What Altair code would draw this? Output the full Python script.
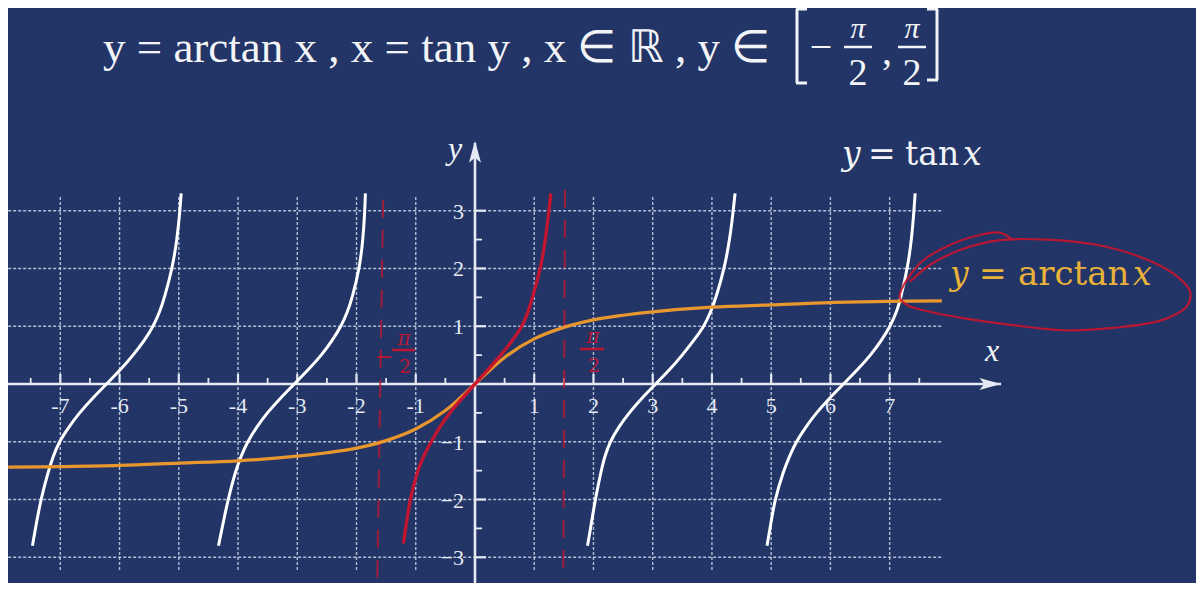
import altair as alt
import pandas as pd

# ---------------- data ----------------
tan_y = [-2.8, -2.5, -2.0, -1.5, -1.25, -1.0, -0.75, -0.5, -0.25, 0.0,
         0.25, 0.5, 0.75, 1.0, 1.25, 1.5, 2.0, 2.5, 3.0, 3.3]
branch_a_x = [-7.47, -7.42, -7.33, -7.20, -7.12, -7.02, -6.86, -6.68, -6.46, -6.22,
              -5.98, -5.77, -5.58, -5.43, -5.32, -5.24, -5.11, -5.03, -4.98, -4.96]
branch_b_x = [-4.33, -4.27, -4.17, -4.04, -3.95, -3.84, -3.69, -3.51, -3.29, -3.05,
              -2.81, -2.59, -2.41, -2.26, -2.15, -2.07, -1.95, -1.89, -1.86, -1.85]
branch_c_x = [1.90, 1.95, 2.03, 2.13, 2.19, 2.28, 2.42, 2.60, 2.81, 3.05,
              3.29, 3.50, 3.69, 3.87, 3.98, 4.07, 4.21, 4.30, 4.36, 4.39]
branch_d_x = [4.93, 4.98, 5.06, 5.21, 5.31, 5.42, 5.58, 5.76, 5.98, 6.22,
              6.46, 6.68, 6.86, 7.01, 7.12, 7.19, 7.30, 7.37, 7.41, 7.43]

red_y = [-2.76, -2.5, -2.0, -1.5, -1.25, -1.0, -0.75, -0.5, -0.25, 0.0,
         0.25, 0.5, 0.75, 1.0, 1.25, 1.5, 2.0, 2.5, 3.0, 3.3]
red_x = [-1.21, -1.17, -1.10, -0.97, -0.87, -0.74, -0.60, -0.43, -0.22, 0.0,
         0.22, 0.44, 0.63, 0.80, 0.90, 0.97, 1.11, 1.19, 1.25, 1.28]

arctan_x = [-7.88, -7, -6, -5, -4, -3, -2.5, -2, -1.5, -1, -0.5, 0, 0.5, 1, 1.5, 2, 2.5, 3, 4, 5, 6, 7, 7.88]
arctan_y = [-1.44, -1.43, -1.41, -1.37, -1.33, -1.25, -1.19, -1.11, -0.98, -0.78, -0.46, 0.0,
            0.46, 0.78, 0.98, 1.11, 1.19, 1.25, 1.33, 1.37, 1.41, 1.43, 1.44]

asym_x_top = [-1.55, 1.52]
asym_y_top = [3.19, 3.36]
asym_x_bot = [-1.65, 1.49]
asym_y_bot = [-3.40, -3.40]

ellipse_x = [9.08, 8.86, 8.52, 7.96, 7.51, 7.17, 7.29, 7.68, 8.24, 9.08, 9.93, 10.77, 11.61,
             12.01, 12.07, 11.78, 11.23, 10.49, 9.65, 8.86, 8.19, 7.68, 7.34]
ellipse_y = [2.49, 2.62, 2.58, 2.38, 2.09, 1.51, 1.37, 1.25, 1.14, 1.02, 0.93, 0.97, 1.11,
             1.34, 1.60, 1.92, 2.20, 2.41, 2.50, 2.49, 2.32, 2.06, 1.77]

grid_x = [-7, -6, -5, -4, -3, -2, -1, 1, 2, 3, 4, 5, 6, 7]
grid_y = [-3, -2, -1, 1, 2, 3]
minor_x = [-7.5, -6.5, -5.5, -4.5, -3.5, -2.5, -1.5, -0.5, 0.5, 1.5, 2.5, 3.5, 4.5, 5.5, 6.5, 7.5]
minor_y = [-2.5, -1.5, -0.5, 0.5, 1.5, 2.5]
x_labels = ["-7", "-6", "-5", "-4", "-3", "-2", "-1", "1", "2", "3", "4", "5", "6", "7"]
y_labels = ["−3", "−2", "−1", "1", "2", "3"]

grid_x_lo, grid_x_hi = -7.88, 7.88
grid_y_lo, grid_y_hi = -3.22, 3.24
axis_x_end, axis_y_end = 8.88, 4.17
arrow_x_pos, arrow_y_pos = 8.70, 4.02

# ---------------- style ----------------
W, H = 1188, 575
X_DOM = [-7.883, 12.171]
Y_DOM = [-3.445, 6.509]
BG = "#223566"
GRID = "#c3cce0"
AXIS = "#e4e9f3"
ORANGE = "#e8962e"
GOLD = "#e8b23a"
RED = "#c8142e"
SERIF = "Liberation Serif"
MATH = "DejaVu Serif"

xs = alt.Scale(domain=X_DOM, nice=False, zero=False)
ys = alt.Scale(domain=Y_DOM, nice=False, zero=False)


def qx(f):
    return alt.X(f, type="quantitative", scale=xs, axis=None)


def qy(f):
    return alt.Y(f, type="quantitative", scale=ys, axis=None)


layers = []

# grid
vgrid = pd.DataFrame({"x": grid_x, "y": [grid_y_lo] * len(grid_x), "y2": [grid_y_hi] * len(grid_x)})
layers.append(alt.Chart(vgrid).mark_rule(color=GRID, strokeWidth=1.4, strokeDash=[3, 2], opacity=0.9)
              .encode(x=qx("x"), y=qy("y"), y2="y2"))
hgrid = pd.DataFrame({"y": grid_y, "x": [grid_x_lo] * len(grid_y), "x2": [grid_x_hi] * len(grid_y)})
layers.append(alt.Chart(hgrid).mark_rule(color=GRID, strokeWidth=1.4, strokeDash=[3, 2], opacity=0.9)
              .encode(y=qy("y"), x=qx("x"), x2="x2"))

# axes
layers.append(alt.Chart(pd.DataFrame({"a": [X_DOM[0]], "b": [axis_x_end], "y": [0]}))
              .mark_rule(color=AXIS, strokeWidth=2.6).encode(x=qx("a"), x2="b", y=qy("y")))
layers.append(alt.Chart(pd.DataFrame({"a": [Y_DOM[0]], "b": [axis_y_end], "x": [0]}))
              .mark_rule(color=AXIS, strokeWidth=2.6).encode(y=qy("a"), y2="b", x=qx("x")))
layers.append(alt.Chart(pd.DataFrame({"x": [arrow_x_pos], "y": [0]}))
              .mark_point(shape="M1,0 L-1,-0.55 L-0.55,0 L-1,0.55 Z", size=484, filled=True,
                          color=AXIS, opacity=1).encode(x=qx("x"), y=qy("y")))
layers.append(alt.Chart(pd.DataFrame({"x": [0], "y": [arrow_y_pos]}))
              .mark_point(shape="M0,-1 L-0.55,1 L0,0.55 L0.55,1 Z", size=484, filled=True,
                          color=AXIS, opacity=1).encode(x=qx("x"), y=qy("y")))

# ticks
xt = pd.DataFrame({"x": grid_x, "y": [0] * len(grid_x)})
layers.append(alt.Chart(xt).mark_rule(color=AXIS, strokeWidth=2.2, y2Offset=-10)
              .encode(x=qx("x"), y=qy("y"), y2="y"))
xm = pd.DataFrame({"x": minor_x, "y": [0] * len(minor_x)})
layers.append(alt.Chart(xm).mark_rule(color=AXIS, strokeWidth=1.8, y2Offset=-6)
              .encode(x=qx("x"), y=qy("y"), y2="y"))
yt = pd.DataFrame({"y": grid_y, "x": [0] * len(grid_y)})
layers.append(alt.Chart(yt).mark_rule(color=AXIS, strokeWidth=2.2, x2Offset=11)
              .encode(y=qy("y"), x=qx("x"), x2="x"))
ym = pd.DataFrame({"y": minor_y, "x": [0] * len(minor_y)})
layers.append(alt.Chart(ym).mark_rule(color=AXIS, strokeWidth=1.8, x2Offset=7)
              .encode(y=qy("y"), x=qx("x"), x2="x"))

# tick labels
xl = pd.DataFrame({"x": grid_x, "y": [0] * len(grid_x), "t": x_labels})
layers.append(alt.Chart(xl).mark_text(font=SERIF, fontSize=22, color=AXIS, baseline="middle", dy=22)
              .encode(x=qx("x"), y=qy("y"), text="t:N"))
yl = pd.DataFrame({"y": grid_y, "x": [0] * len(grid_y), "t": y_labels})
layers.append(alt.Chart(yl).mark_text(font=SERIF, fontSize=22, color=AXIS, baseline="middle",
                                      align="right", dx=-11, dy=1)
              .encode(x=qx("x"), y=qy("y"), text="t:N"))

# red asymptotes
asym = pd.DataFrame({"x": asym_x_top, "y": asym_y_top, "x2": asym_x_bot, "y2": asym_y_bot})
layers.append(alt.Chart(asym).mark_rule(color=RED, strokeWidth=2, strokeDash=[18, 12], opacity=0.75)
              .encode(x=qx("x"), y=qy("y"), x2="x2", y2="y2"))

# white tan branches
rows = []
for name, xv in [("a", branch_a_x), ("b", branch_b_x), ("c", branch_c_x), ("d", branch_d_x)]:
    for i, (a, b) in enumerate(zip(xv, tan_y)):
        rows.append({"x": a, "y": b, "br": name, "o": i})
tan_df = pd.DataFrame(rows)
layers.append(alt.Chart(tan_df).mark_line(color="white", strokeWidth=3, interpolate="basis")
              .encode(x=qx("x"), y=qy("y"), detail="br:N", order="o:Q"))

# arctan
at_df = pd.DataFrame({"x": arctan_x, "y": arctan_y})
layers.append(alt.Chart(at_df).mark_line(color=ORANGE, strokeWidth=3.2, interpolate="catmull-rom")
              .encode(x=qx("x"), y=qy("y")))

# red branch
red_df = pd.DataFrame({"x": red_x, "y": red_y, "o": list(range(len(red_x)))})
layers.append(alt.Chart(red_df).mark_line(color=RED, strokeWidth=3.4, interpolate="basis", opacity=0.95)
              .encode(x=qx("x"), y=qy("y"), order="o:Q"))

# red ellipse
el_df = pd.DataFrame({"x": ellipse_x, "y": ellipse_y, "o": list(range(len(ellipse_x)))})
layers.append(alt.Chart(el_df).mark_line(color=RED, strokeWidth=2.2, interpolate="catmull-rom", opacity=0.9)
              .encode(x=qx("x"), y=qy("y"), order="o:Q"))


# ---------------- text annotations ----------------
def txt(t, x, y, size, color="white", italic=False, align="left", baseline="alphabetic", font=SERIF,
        opacity=1, weight="normal"):
    return (alt.Chart(pd.DataFrame({"t": [t]}))
            .mark_text(font=font, fontSize=size, color=color, align=align, baseline=baseline,
                       fontStyle="italic" if italic else "normal", opacity=opacity, fontWeight=weight)
            .encode(x=alt.value(x), y=alt.value(y), text="t:N"))


def seg(x1, y1, x2, y2, color="white", w=3, opacity=1):
    return (alt.Chart(pd.DataFrame({"k": [0]}))
            .mark_rule(color=color, strokeWidth=w, opacity=opacity)
            .encode(x=alt.value(x1), y=alt.value(y1), x2=alt.value(x2), y2=alt.value(y2)))


TW = "#f2f4f8"
# title
layers.append(txt("y = arctan x , x = tan y , x ∈ ℝ , y ∈", 95, 54, 45, TW))
layers.append(seg(789, 1, 789, 75, TW, 3))
layers.append(seg(788, 75, 799, 75, TW, 3))
layers.append(seg(788, 1, 799, 1, TW, 3))
layers.append(txt("−", 813, 40, 40, TW, align="center", baseline="middle"))
layers.append(txt("π", 850, 30, 30, TW, italic=True, align="center", baseline="alphabetic"))
layers.append(seg(836, 39, 864, 39, TW, 2.5))
layers.append(txt("2", 850, 77, 38, TW, align="center"))
layers.append(txt(",", 879, 56, 40, TW, align="center"))
layers.append(txt("π", 904, 30, 30, TW, italic=True, align="center", baseline="alphabetic"))
layers.append(seg(890, 39, 918, 39, TW, 2.5))
layers.append(txt("2", 904, 77, 38, TW, align="center"))
layers.append(seg(929, 1, 929, 72, TW, 3))
layers.append(seg(919, 72, 930, 72, TW, 3))
layers.append(seg(919, 1, 930, 1, TW, 3))

# axis names
layers.append(txt("y", 447, 151, 32, TW, italic=True, align="center"))
layers.append(txt("x", 984, 353, 32, TW, italic=True, align="center"))

# y = tan x
layers.append(txt("y", 834, 157, 33, TW, italic=True, font=MATH))
layers.append(txt("=", 860, 157, 33, TW, font=MATH))
layers.append(txt("tan", 897, 157, 33, TW, font=MATH))
layers.append(txt("x", 955, 157, 33, TW, italic=True, font=MATH))

# y = arctan x
layers.append(txt("y", 942, 277, 33, GOLD, italic=True, font=MATH))
layers.append(txt("=", 971, 277, 33, GOLD, font=MATH))
layers.append(txt("arctan", 1010, 277, 34, GOLD, font=MATH))
layers.append(txt("x", 1125, 277, 33, GOLD, italic=True, font=MATH))

# red handwritten labels
layers.append(txt("−", 376, 349, 22, RED, align="center", baseline="middle", opacity=0.9, font=MATH))
layers.append(txt("π", 396, 337, 20, RED, italic=True, align="center", opacity=0.9, font=MATH))
layers.append(seg(384, 342, 407, 342, RED, 2.6, 0.9))
layers.append(txt("2", 397, 365, 19, RED, align="center", opacity=0.9, font=MATH))
layers.append(txt("π", 585, 335, 20, RED, italic=True, align="center", opacity=0.9, font=MATH))
layers.append(seg(572, 341, 596, 341, RED, 2.6, 0.9))
layers.append(txt("2", 586, 364, 19, RED, align="center", opacity=0.9, font=MATH))

chart = (alt.layer(*layers)
         .properties(width=W, height=H, background=BG, padding=0, autosize="none")
         .configure_view(stroke=None))

chart.save("out.html", embed_options={"renderer": "svg", "actions": False})
